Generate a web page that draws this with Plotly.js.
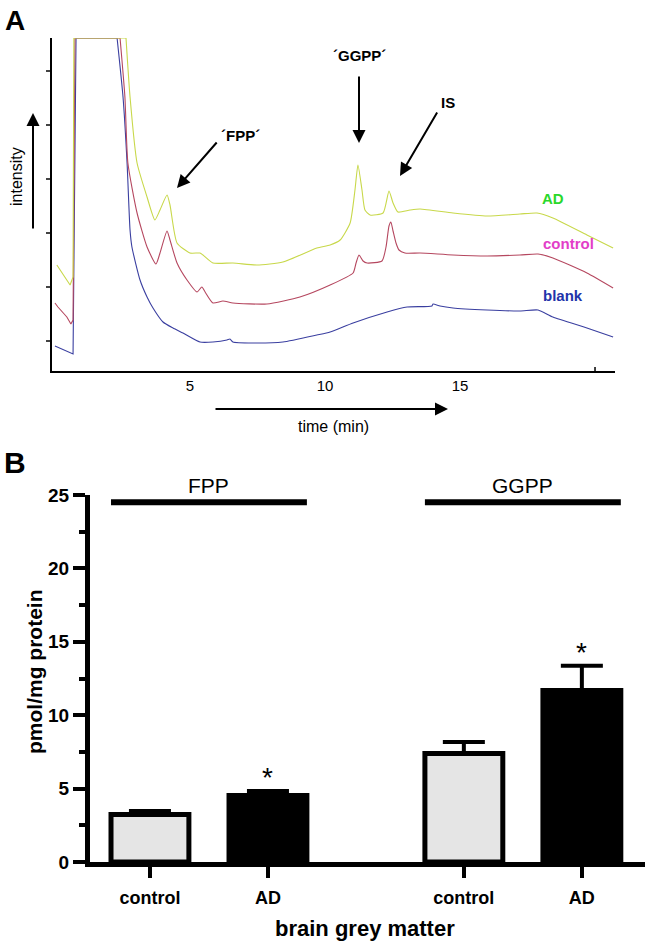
<!DOCTYPE html>
<html>
<head>
<meta charset="utf-8">
<script src="https://cdn.plot.ly/plotly-3.0.1.min.js"></script>
<style>
html,body{margin:0;padding:0;background:#fff;}
#chart{width:646px;height:941px;}
</style>
</head>
<body>
<div id="chart"></div>
<script>
// ---------- Panel A: chromatograms (time in min, intensity in arbitrary units) ----------
const blankTime = [0, 0.67, 0.78, 2.30, 2.52, 2.67, 2.78, 2.85, 3.15, 3.41, 3.63, 4.00, 4.37, 4.74, 5.37, 5.85, 6.37, 6.48, 6.59, 7.33, 8.44, 9.70, 10.19, 11.04, 12.30, 13.04, 13.96, 14.0, 14.26, 14.74, 16.0, 17.22, 17.89, 18.44, 19.70, 20.67];
const blankIntensity = [25, 17, 333, 333, 274, 208, 141, 124, 91, 74, 63, 49, 43, 38, 29, 29, 31, 32, 29, 28, 29, 36, 39, 48, 59, 64, 65, 67, 65, 63, 61, 60, 61, 54, 43, 34];

const controlTime = [0, 0.11, 0.44, 0.59, 0.67, 0.74, 2.41, 2.59, 2.70, 3.04, 3.41, 3.74, 3.89, 4.15, 4.26, 4.52, 4.89, 5.26, 5.44, 5.56, 5.85, 6.22, 6.59, 7.85, 9.07, 10.19, 11.04, 11.15, 11.26, 11.41, 11.56, 12.11, 12.26, 12.37, 12.44, 12.52, 12.63, 12.74, 12.96, 13.52, 14.74, 16.0, 17.22, 17.89, 18.44, 19.70, 20.67];
const controlIntensity = [68, 64, 54, 47, 51, 333, 333, 274, 208, 158, 124, 107, 118, 140, 131, 108, 91, 79, 84, 79, 68, 70, 68, 67, 74, 86, 98, 108, 116, 110, 108, 110, 124, 145, 149, 140, 128, 121, 118, 118, 116, 115, 116, 117, 113, 98, 83];

const adTime = [0.07, 0.26, 0.56, 0.67, 0.70, 2.63, 2.78, 3.04, 3.41, 3.70, 3.89, 4.15, 4.26, 4.52, 5.00, 5.37, 5.48, 5.85, 6.59, 7.48, 8.44, 9.70, 10.19, 10.56, 10.93, 11.11, 11.22, 11.37, 11.48, 11.67, 12.15, 12.37, 12.52, 12.70, 13.15, 13.52, 14.74, 16.0, 17.22, 17.85, 18.44, 19.70, 20.67];
const adIntensity = [106, 98, 86, 94, 333, 333, 274, 208, 174, 151, 161, 176, 166, 128, 118, 118, 116, 108, 108, 106, 109, 123, 126, 131, 148, 181, 206, 181, 161, 156, 158, 180, 168, 159, 161, 162, 158, 155, 157, 158, 153, 136, 123];

const timeTicks = [5, 10, 15];

// ---------- Panel B: bar chart ----------
const groups = ['FPP', 'GGPP'];
const conditions = ['control', 'AD'];
const meanValues = [3.24, 4.53, 7.39, 11.68];   // pmol/mg protein: FPP control, FPP AD, GGPP control, GGPP AD
const semValues = [0.23, 0.31, 0.78, 1.69];
const significant = [false, true, false, true];

// ---------- helpers (layout only) ----------
const W = 646, H = 941;
const px = v => v / W;
const py = v => 1 - v / H;
const groupGap = 2.66;
const barX = [];
const barLabels = [];
groups.forEach((g, gi) => conditions.forEach((c, ci) => { barX.push(1 + gi * groupGap + ci); barLabels.push(c); }));
const barColors = barLabels.map(c => c === 'AD' ? '#000000' : '#e5e5e5');

const FONT = '"Liberation Sans", Arial, Helvetica, sans-serif';
const YMAX = 333;

// each chromatogram: straight segments up to the end of the saturated (off-scale) block, smooth afterwards
const chromTraces = (t, v, color) => {
  const cut = v.lastIndexOf(YMAX);
  return [
    {x: t.slice(0, cut + 1), y: v.slice(0, cut + 1), type: 'scatter', mode: 'lines', line: {color: color, width: 1.1}, xaxis: 'x', yaxis: 'y', hoverinfo: 'skip'},
    {x: t.slice(cut), y: v.slice(cut), type: 'scatter', mode: 'lines', line: {color: color, width: 1.1, shape: 'spline', smoothing: 0.55}, xaxis: 'x', yaxis: 'y', hoverinfo: 'skip'}
  ];
};

const traces = [
  ...chromTraces(blankTime, blankIntensity, '#3a3fa0'),
  ...chromTraces(controlTime, controlIntensity, '#b5475f'),
  ...chromTraces(adTime, adIntensity, '#c8d84a'),
  {x: barX, y: meanValues, type: 'bar', width: 0.66, xaxis: 'x2', yaxis: 'y2',
   marker: {color: barColors, line: {color: '#000', width: 5}},
   error_y: {type: 'data', array: semValues, arrayminus: semValues.map(() => 0), symmetric: false, thickness: 4, width: 21, color: '#000'},
   hoverinfo: 'skip'}
];

const shapes = [
  // tick at 20 min (inside)
  {type: 'line', xref: 'x', yref: 'y', x0: 20, x1: 20, y0: 0, y1: 4, line: {color: '#000', width: 1.5}}
];
const annotations = [];

// Group bars & labels in panel B
groups.forEach((g, gi) => {
  const c = 1 + gi * groupGap + 0.5;
  shapes.push({type: 'line', xref: 'x2', yref: 'y2', x0: c - 0.83, x1: c + 0.83, y0: 24.5, y1: 24.5, line: {color: '#000', width: 6}});
  annotations.push({xref: 'x2', yref: 'y2', x: c, y: 24.5, yanchor: 'bottom', yshift: 3, text: g, showarrow: false, font: {family: FONT, size: 21, color: '#000'}});
});
// significance stars
barX.forEach((x, i) => {
  if (significant[i]) annotations.push({xref: 'x2', yref: 'y2', x: x, y: meanValues[i] + semValues[i], yanchor: 'bottom', yshift: -4, text: '*', showarrow: false, font: {family: FONT, size: 28, color: '#000'}});
});

// Panel labels & texts
const txt = (x, y, text, size, opts = {}) => annotations.push(Object.assign({xref: 'paper', yref: 'paper', x: px(x), y: py(y), xanchor: 'center', yanchor: 'middle', text: text, showarrow: false, font: {family: FONT, size: size, color: opts.color || '#000', weight: opts.weight || 'normal'}}, opts.extra || {}));
const arrow = (tipX, tipY, tailX, tailY) => annotations.push({xref: 'paper', yref: 'paper', x: px(tipX), y: py(tipY), ax: tailX - tipX, ay: tailY - tipY, text: '', showarrow: true, arrowhead: 2, arrowsize: 1.3, arrowwidth: 2, arrowcolor: '#000', standoff: 0, startstandoff: 0});

txt(15, 20, 'A', 28, {weight: 'bold'});
txt(15, 462, 'B', 30, {weight: 'bold'});
txt(17, 177, 'intensity', 16, {extra: {textangle: -90}});
arrow(33, 113, 33, 230);
txt(333, 427, 'time (min)', 16);
arrow(448, 409, 214, 409);
txt(240, 135, '\u00B4FPP\u00B4', 15, {weight: 'bold'});
arrow(177, 188, 218, 141);
txt(359, 55, '\u00B4GGPP\u00B4', 15, {weight: 'bold'});
arrow(359, 143, 359, 75);
txt(448, 103, 'IS', 15, {weight: 'bold'});
arrow(400, 176, 438, 111);
txt(553, 198, 'AD', 15, {weight: 'bold', color: '#2ad82a'});
txt(568, 243, 'control', 15, {weight: 'bold', color: '#e23ec8'});
txt(563, 295, 'blank', 15, {weight: 'bold', color: '#2233aa'});
txt(34, 672, 'pmol/mg protein', 21, {weight: 'bold', extra: {textangle: -90}});
txt(365, 928, 'brain grey matter', 22, {weight: 'bold'});

const layout = {
  width: W, height: H,
  margin: {l: 0, r: 0, t: 0, b: 0},
  paper_bgcolor: '#fff', plot_bgcolor: 'rgba(0,0,0,0)',
  showlegend: false,
  font: {family: FONT, color: '#000'},
  xaxis: {domain: [px(52), px(615)], range: [-0.11, 20.74], anchor: 'y', showline: true, linewidth: 2, linecolor: '#000',
          tickvals: timeTicks, ticks: '', tickfont: {family: FONT, size: 15, color: '#000'}, showgrid: false, zeroline: false, fixedrange: true},
  yaxis: {domain: [py(371), py(38)], range: [0, YMAX], anchor: 'x', showline: true, linewidth: 2, linecolor: '#000',
          ticks: 'outside', ticklen: 4, tickwidth: 1.5, tick0: 30, dtick: 54, showticklabels: false, showgrid: false, zeroline: false, fixedrange: true},
  xaxis2: {domain: [px(90), px(645)], range: [0.492, 5.195], anchor: 'y2', showline: true, linewidth: 5, linecolor: '#000',
           tickvals: barX, ticktext: barLabels, ticks: 'outside', ticklen: 11, tickwidth: 4, tickcolor: '#000', ticklabelstandoff: 4,
           tickfont: {family: FONT, size: 18, color: '#000', weight: 'bold'}, showgrid: false, zeroline: false, fixedrange: true},
  yaxis2: {domain: [py(862), py(495)], range: [0, 25], anchor: 'x2', showline: true, linewidth: 5, linecolor: '#000',
           ticks: 'outside', ticklen: 12, tickwidth: 4, tickcolor: '#000', dtick: 5,
           minor: {dtick: 2.5, ticks: 'outside', ticklen: 6, tickwidth: 4, tickcolor: '#000'},
           tickfont: {family: FONT, size: 19, color: '#000', weight: 'bold'}, showgrid: false, zeroline: false, fixedrange: true},
  shapes: shapes,
  annotations: annotations
};

Plotly.newPlot('chart', traces, layout, {staticPlot: true, displayModeBar: false});
</script>
</body>
</html>
